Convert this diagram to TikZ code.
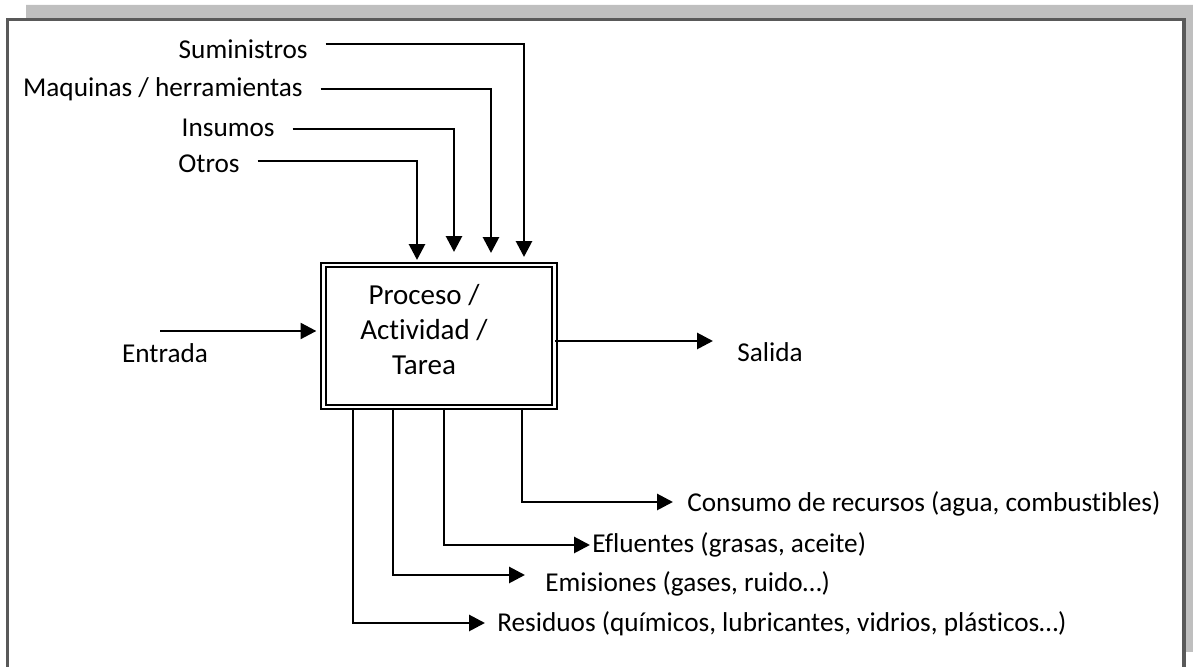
\documentclass[tikz,border=0pt]{standalone}
\usepackage{fontspec}
\setmainfont{Carlito}[Ligatures=NoCommon]
\usetikzlibrary{arrows.meta,positioning}
\tikzset{
  >={Triangle[length=9pt,width=9pt]},
  flow/.style={->,line width=1.6pt},
  lbl/.style={inner sep=0pt,text height=11pt,text depth=0pt,font=\fontsize{15.5}{18}\selectfont},
  proc/.style={draw,double,line width=1.1pt,double distance=1.3pt,minimum width=4.62cm,minimum height=2.84cm,inner sep=0pt},
  ptxt/.style={align=center,inner sep=0pt,font=\fontsize{16.5}{19.9}\selectfont}
}
\begin{document}
\begin{tikzpicture}
\useasboundingbox (0,0) rectangle (23.86,13.34);
% marco
\fill[black!25] (0.52,13.24) -- (23.86,13.24) -- (23.86,0.30) -- (23.72,0.30) -- (23.72,12.98) -- (0.52,12.98) -- cycle;
\draw[black!65,line width=2pt] (0.15,0) -- (0.15,12.95) -- (23.68,12.95) -- (23.68,0);
% proceso
\node[proc](box)at(8.78,6.62){};
\node[ptxt](ptx)at(8.48,6.74){Proceso /\\Actividad /\\Tarea};
% entradas de arriba
\node[lbl,anchor=east](sum)at(6.16,12.37){Suministros};
\node[lbl,anchor=east](maq)at(6.06,11.60){Maquinas / herramientas};
\node[lbl,anchor=east](ins)at(5.50,10.81){Insumos};
\node[lbl,anchor=east](otr)at(4.80,10.09){Otros};
\foreach \n/\x/\y/\t in {sum/10.48/12.46/8.20,maq/9.82/11.56/8.28,ins/9.08/10.76/8.30,otr/8.34/10.12/8.14}{
  \coordinate(\n-c)at(\x,\y);
  \coordinate(\n-t)at(\x,\t);
  \draw[flow,shorten <=10pt](\n.east |- \n-c)--(\n-c)--(\n-t);
}
% entrada / salida
\node[lbl](ent)at(3.30,6.28){Entrada};
\node[lbl,anchor=west](sal)at(14.74,6.30){Salida};
\coordinate(ent-s)at(3.20,6.72);
\coordinate(sal-t)at(14.26,6.52);
\draw[flow,shorten >=3.5pt](ent-s)--(ent-s -| box.west);
\draw[flow](box.east |- sal-t)--(sal-t);
% salidas de abajo
\node[lbl,anchor=west](res)at(9.94,0.90){Residuos (químicos, lubricantes, vidrios, plásticos…)};
\node[lbl,anchor=west](emi)at(10.90,1.70){Emisiones (gases, ruido…)};
\node[lbl,anchor=west](efl)at(11.84,2.48){Efluentes (grasas, aceite)};
\node[lbl,anchor=west](con)at(13.74,3.30){Consumo de recursos (agua, combustibles)};
\foreach \n/\x/\y/\t in {res/7.06/0.88/9.70,emi/7.86/1.84/10.50,efl/8.88/2.44/11.80,con/10.44/3.30/13.46}{
  \coordinate(\n-c)at(\x,\y);
  \coordinate(\n-t)at(\t,\y);
  \draw[flow](box.south -| \n-c)--(\n-c)--(\n-t);
}
\end{tikzpicture}
\end{document}
